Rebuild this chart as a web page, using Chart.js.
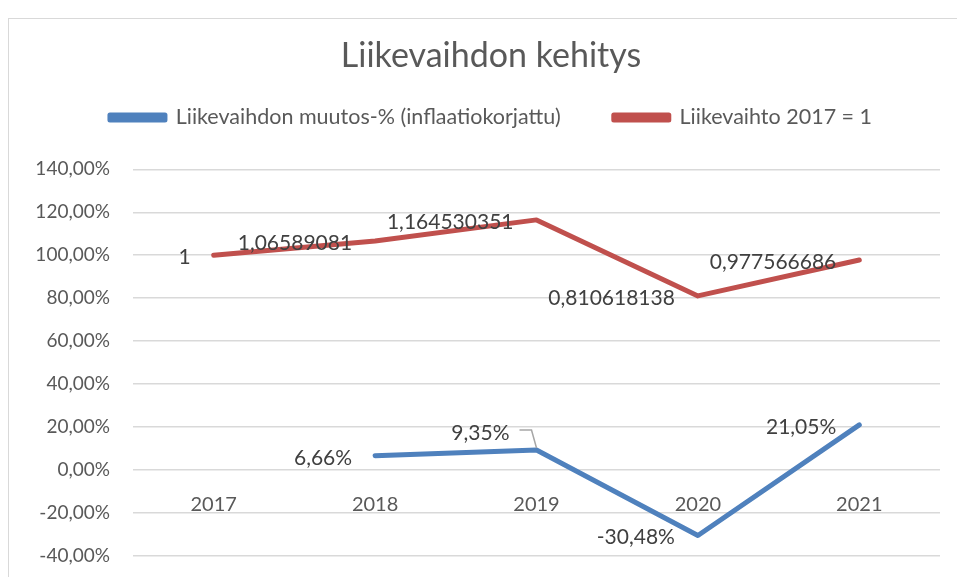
<!DOCTYPE html>
<html>
<head>
<meta charset="utf-8">
<script src="https://cdn.jsdelivr.net/npm/chart.js@4"></script>
<style>
  html, body { margin: 0; padding: 0; background: #fff; }
  #wrap { position: relative; width: 957px; height: 577px; overflow: hidden; }
  #frame { position: absolute; left: 8px; top: 18px; width: 1000px; height: 700px; border: 1px solid #d9d9d9; }
  #myChart { position: absolute; left: 0; top: 0; }
</style>
</head>
<body>
<div id="wrap">
  <div id="frame"></div>
  <canvas id="myChart" width="957" height="577"></canvas>
</div>
<script>
// Data
var years = ['2017', '2018', '2019', '2020', '2021'];
var muutos = [null, 6.66, 9.35, -30.48, 21.05];          // %, inflaatiokorjattu
var liikevaihto = [1, 1.06589081, 1.164530351, 0.810618138, 0.977566686]; // 2017 = 1
var yTicks = [-40, -20, 0, 20, 40, 60, 80, 100, 120, 140];

var fontFamily = 'Lato, "Open Sans", sans-serif';

function fiNum(v, dec) {
    return v.toFixed(dec).replace('.', ',');
}

// Extra room between the legend and the plot, and nudge title + legend right
var legendSpacing = {
    id: 'legendSpacing',
    beforeInit: function (chart) {
        let origFit = chart.legend.fit;
        chart.legend.fit = function () {
            origFit.call(this);
            this.height += 31;
        };
    },
    afterLayout: function (chart) {
        [chart.legend, chart.titleBlock].forEach(function (box) {
            if (!box) return;
            box.left += 12;
            box.right += 12;
        });
    }
};

// Draws the data labels next to each point (left of the point, like Excel)
var pointLabels = {
    id: 'pointLabels',
    afterDatasetsDraw: function (chart) {
        let ctx = chart.ctx;
        ctx.save();
        ctx.font = '21px ' + fontFamily;
        ctx.fillStyle = '#404040';
        ctx.textAlign = 'right';
        ctx.textBaseline = 'middle';
        chart.data.datasets.forEach(function (ds, di) {
            let meta = chart.getDatasetMeta(di);
            meta.data.forEach(function (pt, i) {
                if (ds.data[i] === null) return;
                let txt = ds.labels[i];
                let off = (ds.labelOffsets && ds.labelOffsets[i]) || [-23, 2];
                let x = pt.x + off[0], y = pt.y + off[1];
                if (off[2]) {
                    // leader line
                    ctx.strokeStyle = '#a6a6a6';
                    ctx.lineWidth = 1.5;
                    ctx.beginPath();
                    ctx.moveTo(x + 10, y - 3);
                    ctx.lineTo(x + 22, y - 3);
                    ctx.lineTo(pt.x, pt.y - 2);
                    ctx.stroke();
                }
                ctx.fillText(txt, x, y);
            });
        });
        ctx.restore();
    }
};

var datasets = [
    {
        label: 'Liikevaihdon muutos-% (inflaatiokorjattu)',
        data: muutos,
        labels: muutos.map(function (v) { return v === null ? '' : fiNum(v, 2) + '%'; }),
        labelOffsets: [null, null, [-27, -17, true], null, null],
        borderColor: '#4f81bd',
        backgroundColor: '#4f81bd',
        borderWidth: 5,
        pointRadius: 0,
        borderCapStyle: 'round',
        borderJoinStyle: 'round'
    },
    {
        label: 'Liikevaihto 2017 = 1',
        data: liikevaihto.map(function (v) { return v * 100; }),
        labels: liikevaihto.map(function (v) { return String(v).replace('.', ','); }),
        borderColor: '#c0504d',
        backgroundColor: '#c0504d',
        borderWidth: 5,
        pointRadius: 0,
        borderCapStyle: 'round',
        borderJoinStyle: 'round'
    }
];

var ctx = document.getElementById('myChart').getContext('2d');
var chart = new Chart(ctx, {
    type: 'line',
    data: { labels: years, datasets: datasets },
    plugins: [legendSpacing, pointLabels],
    options: {
        animation: false,
        responsive: false,
        layout: { padding: { left: 18, right: 17, top: 22, bottom: 21 } },
        plugins: {
            title: {
                display: true,
                text: 'Liikevaihdon kehitys',
                color: '#595959',
                font: { family: fontFamily, size: 34, weight: 'normal' },
                padding: { top: 14, bottom: -23 }
            },
            legend: {
                display: true,
                labels: {
                    color: '#595959',
                    font: { family: fontFamily, size: 21.5 },
                    boxWidth: 55,
                    boxHeight: 5,
                    padding: 53
                }
            },
            tooltip: { enabled: false }
        },
        scales: {
            x: {
                position: { y: 0 },
                offset: true,
                grid: { display: false, drawTicks: false },
                border: { display: false },
                afterFit: function (scale) { scale.height = 0; },
                ticks: {
                    color: '#595959',
                    font: { family: fontFamily, size: 20 },
                    padding: 22
                }
            },
            y: {
                min: -40,
                max: 140,
                afterBuildTicks: function (scale) {
                    scale.ticks = yTicks.map(function (v) { return { value: v }; });
                },
                afterFit: function (scale) {
                    scale.width = 115;
                    scale.paddingTop = 0;
                    scale.paddingBottom = 0;
                },
                grid: { color: '#d9d9d9', lineWidth: 1.5, drawTicks: false },
                border: { display: false },
                ticks: {
                    color: '#595959',
                    font: { family: fontFamily, size: 19 },
                    padding: 23,
                    callback: function (v) { return fiNum(v, 2) + '%'; }
                }
            }
        }
    }
});
</script>
</body>
</html>
